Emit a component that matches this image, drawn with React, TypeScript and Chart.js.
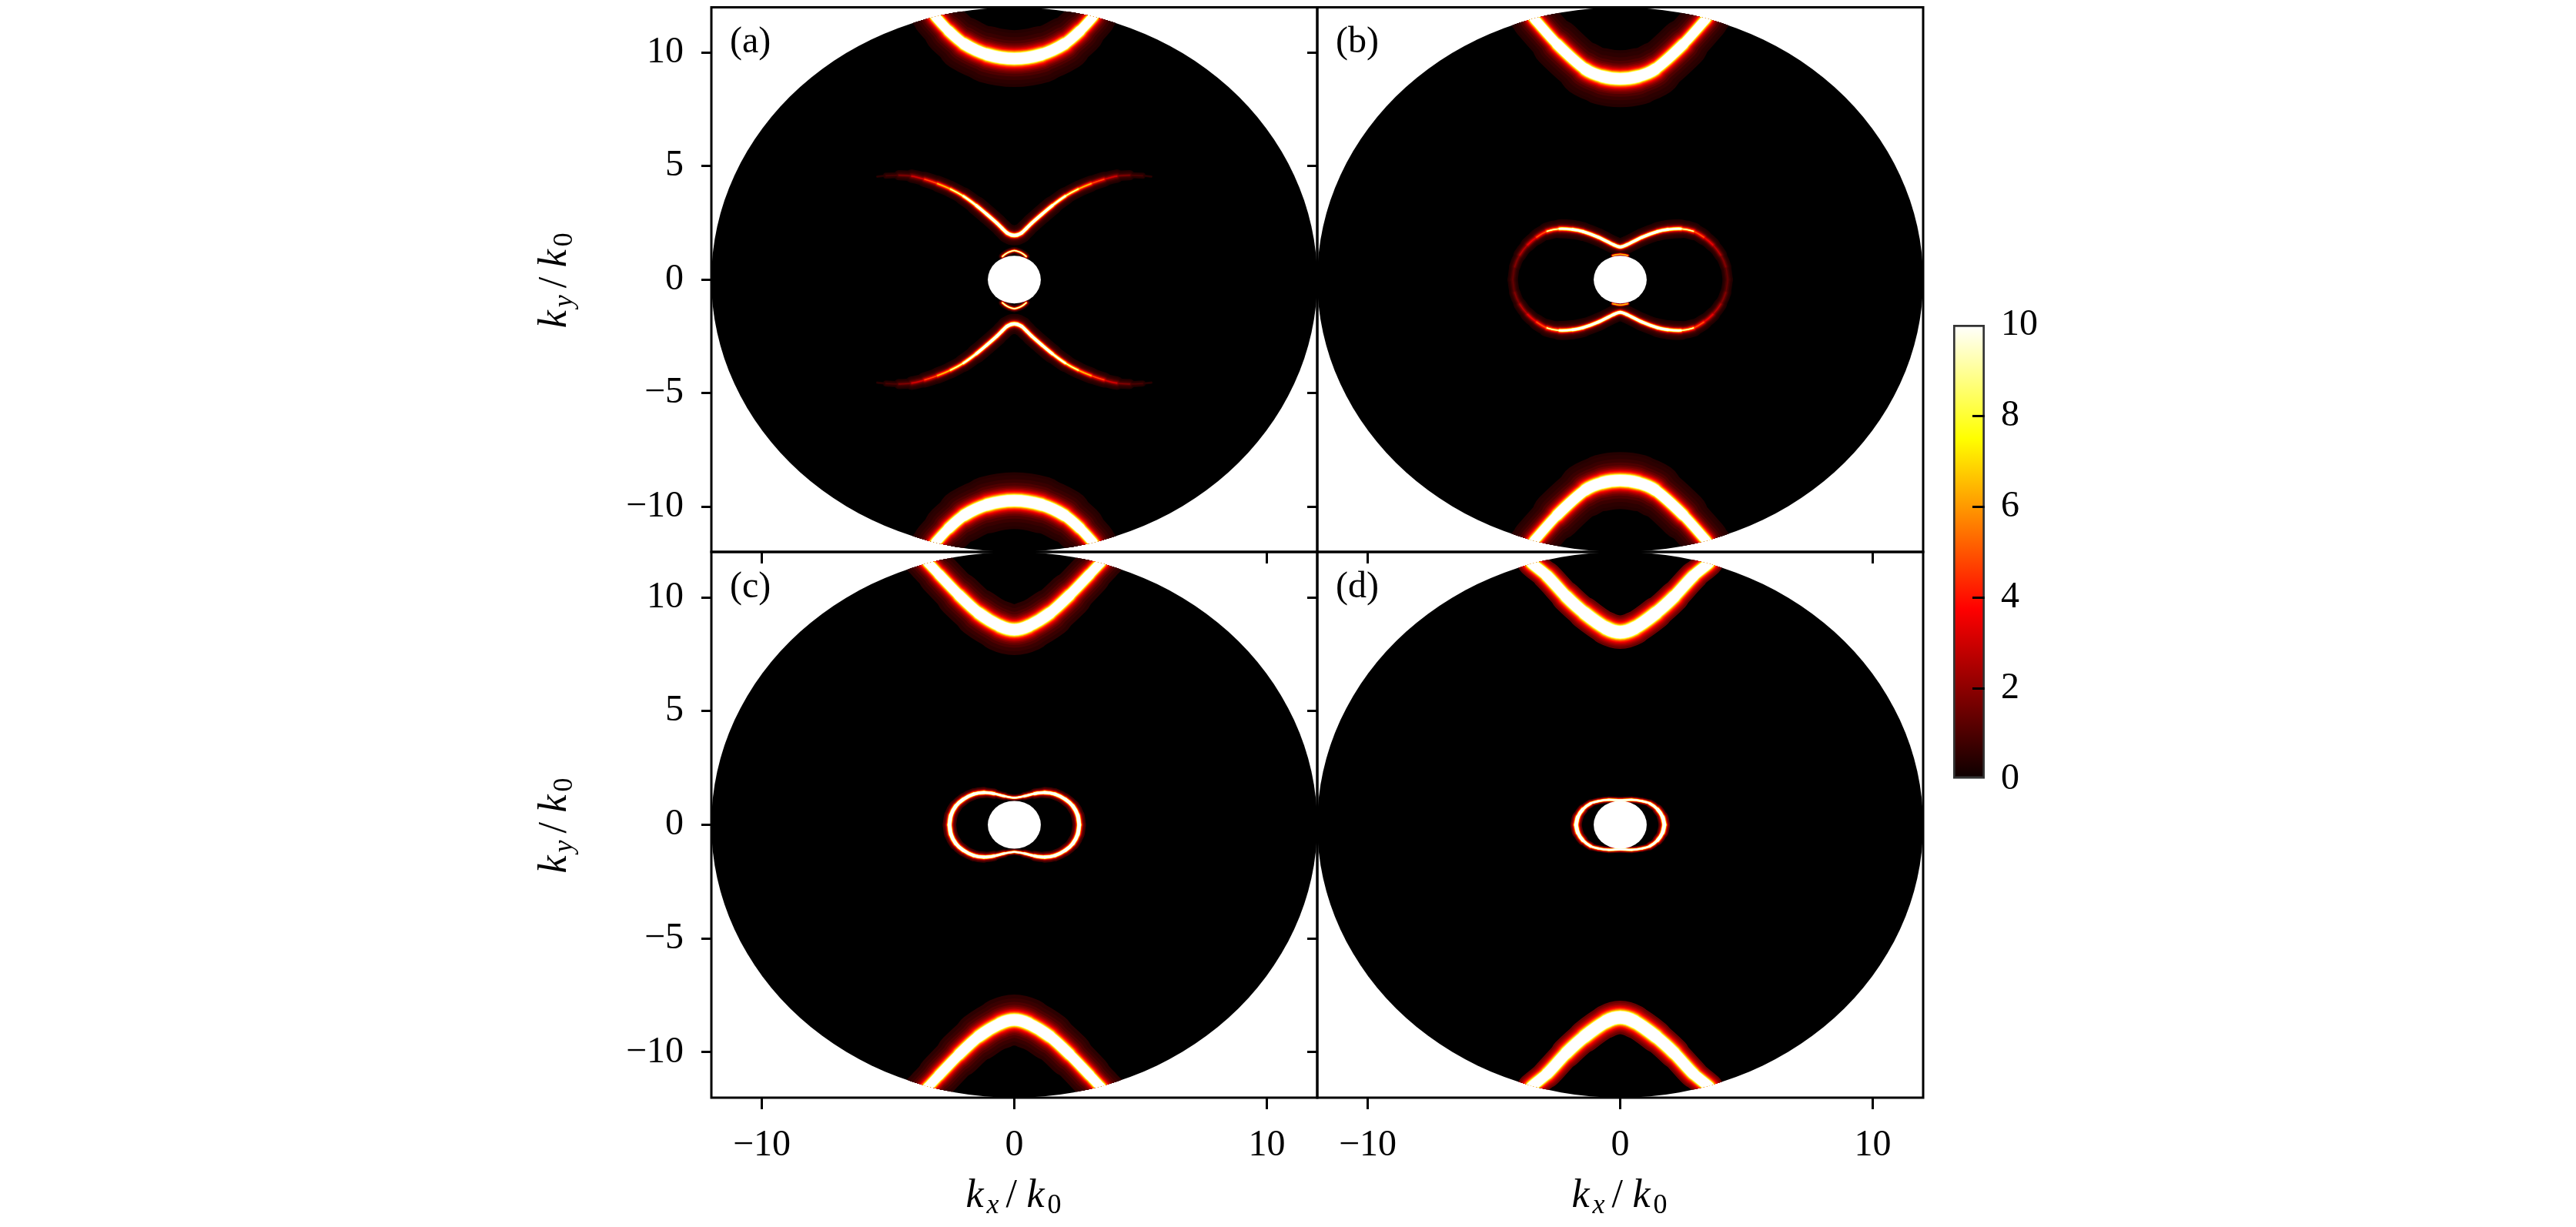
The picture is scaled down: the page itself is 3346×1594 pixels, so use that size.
import React, { useEffect, useRef } from "react";
import { Chart, registerables } from "chart.js";

Chart.register(...registerables);

const PAGE_W = 3346;
const PAGE_H = 1594;
const FONT = '"Liberation Serif", serif';
const TICK_SIZE = 48;

// axis ticks
const xTickValues = [-10, 0, 10];
const yTickValues = [-10, -5, 0, 5, 10];
const barTickValues = [0, 2, 4, 6, 8, 10];
const panelNames = ["(a)", "(b)", "(c)", "(d)"];
const axisRange = 12;
const discRadius = 12;
const holeRadius = 1.05;

// contour levels of the intensity map
const levels = [0.3, 0.4, 0.5, 0.7, 1, 1.4, 1.8, 2.2, 2.6, 3, 3.5, 4, 4.5, 5, 6, 7, 8, 9, 10];

// right half of each upper ridge: kx, ky, peak intensity, Lorentzian width (k0)
const arcAX = [0, 1.07, 1.99, 2.6, 3.11, 3.47, 3.7];
const arcAY = [9.74, 9.92, 10.39, 10.96, 11.57, 12.03, 12.3];
const arcAPeak = [200, 200, 200, 200, 200, 200, 200];
const arcAWidth = [0.051, 0.05, 0.046, 0.042, 0.039, 0.038, 0.038];

const arcBX = [0, 0.7, 1.38, 2.5, 3.39, 3.9];
const arcBY = [8.85, 8.95, 9.27, 10.38, 11.48, 12.1];
const arcBPeak = [200, 200, 200, 200, 200, 200];
const arcBWidth = [0.051, 0.05, 0.047, 0.042, 0.039, 0.038];

const arcCX = [0, 0.56, 1.41, 2.19, 2.98, 3.41, 3.82, 3.98];
const arcCY = [8.58, 8.74, 9.31, 10.1, 11.01, 11.52, 11.97, 12.2];
const arcCPeak = [200, 200, 200, 200, 200, 200, 200, 200];
const arcCWidth = [0.051, 0.05, 0.047, 0.044, 0.041, 0.04, 0.04, 0.04];

const arcDX = [0, 0.56, 1.41, 2.14, 2.9, 3.52, 3.92, 4.08];
const arcDY = [8.47, 8.65, 9.31, 10.04, 10.95, 11.52, 12.03, 12.25];
const arcDPeak = [200, 200, 200, 200, 200, 200, 200, 200];
const arcDWidth = [0.056, 0.055, 0.052, 0.049, 0.046, 0.044, 0.043, 0.043];

const wingAX = [0, 0.12, 0.29, 0.49, 0.69, 1.1, 1.51, 2.02, 2.53, 3.04, 3.55, 4.06, 4.57, 5.08, 5.43];
const wingAY = [1.95, 1.97, 2.06, 2.27, 2.49, 2.89, 3.27, 3.68, 3.99, 4.23, 4.42, 4.56, 4.6, 4.58, 4.54];
const wingAPeak = [30, 30, 28, 26, 24, 22, 17, 11, 8, 5.5, 3.5, 2, 1.1, 0.65, 0.35];
const wingAWidth = [0.04, 0.04, 0.04, 0.04, 0.042, 0.045, 0.05, 0.055, 0.065, 0.075, 0.09, 0.1, 0.1, 0.07, 0.035];

const innerAX = [0, 0.2, 0.35, 0.47];
const innerAY = [1.28, 1.22, 1.13, 1.02];
const innerAPeak = [12, 12, 12, 12];
const innerAWidth = [0.03, 0.03, 0.03, 0.03];

const lobeBX = [0, 0.25, 0.87, 1.48, 1.89, 2.4, 2.9, 3.31, 3.67, 3.98, 4.18, 4.26];
const lobeBY = [1.44, 1.53, 1.87, 2.12, 2.21, 2.24, 2.13, 1.87, 1.53, 1.08, 0.57, 0];
const lobeBPeak = [28, 26, 24, 22, 18, 11, 6, 4, 3, 2.2, 1.6, 1.3];
const lobeBWidth = [0.037, 0.037, 0.04, 0.042, 0.05, 0.062, 0.075, 0.085, 0.09, 0.095, 0.1, 0.11];

const innerBX = [0, 0.15, 0.3];
const innerBY = [1.12, 1.1, 1.06];
const innerBPeak = [8, 8, 8];
const innerBWidth = [0.028, 0.028, 0.028];

const lobeCX = [0, 0.39, 0.8, 1.2, 1.61, 2.02, 2.32, 2.51, 2.57];
const lobeCY = [1.19, 1.26, 1.37, 1.42, 1.35, 1.12, 0.82, 0.42, 0];
const lobeCPeak = [30, 35, 50, 60, 60, 60, 70, 80, 80];
const lobeCWidth = [0.02, 0.02, 0.022, 0.024, 0.024, 0.025, 0.025, 0.025, 0.025];

const lobeDX = [0, 0.46, 0.87, 1.17, 1.48, 1.68, 1.75];
const lobeDY = [1.08, 1.1, 1.04, 0.94, 0.68, 0.34, 0];
const lobeDPeak = [30, 30, 25, 30, 50, 70, 80];
const lobeDWidth = [0.024, 0.024, 0.026, 0.026, 0.026, 0.026, 0.026];

// colour bar stops
const barStops = [0, 0.375, 0.75, 1];
const barColors = ["#0b0000", "#ff0000", "#ffff00", "#ffffff"];
const barData = [10];

type Ridge = { x: number[]; y: number[]; peak: number[]; width: number[]; floor: number };

const mirrorSigned = (a: number[]) => [...a.slice(1).reverse().map((v) => -v), ...a];
const mirrorEven = (a: number[]) => [...a.slice(1).reverse(), ...a];

function pair(x: number[], y: number[], p: number[], w: number[], floor: number): Ridge[] {
  const fx = mirrorSigned(x);
  const fy = mirrorEven(y);
  const fp = mirrorEven(p);
  const fw = mirrorEven(w);
  return [
    { x: fx, y: fy, peak: fp, width: fw, floor },
    { x: fx, y: fy.map((v) => -v), peak: fp, width: fw, floor },
  ];
}

const panelRidges: Ridge[][] = [
  [...pair(arcAX, arcAY, arcAPeak, arcAWidth, 0.37), ...pair(wingAX, wingAY, wingAPeak, wingAWidth, 0.3), ...pair(innerAX, innerAY, innerAPeak, innerAWidth, 0.5)],
  [...pair(arcBX, arcBY, arcBPeak, arcBWidth, 0.4), ...pair(lobeBX, lobeBY, lobeBPeak, lobeBWidth, 0.3), ...pair(innerBX, innerBY, innerBPeak, innerBWidth, 1)],
  [...pair(arcCX, arcCY, arcCPeak, arcCWidth, 0.5), ...pair(lobeCX, lobeCY, lobeCPeak, lobeCWidth, 0.7)],
  [...pair(arcDX, arcDY, arcDPeak, arcDWidth, 1.4), ...pair(lobeDX, lobeDY, lobeDPeak, lobeDWidth, 1)],
];

function hot(v: number) {
  const t = Math.min(1, Math.max(0, v / 10));
  const r = Math.min(1, 0.0416 + (t / 0.365) * 0.9584);
  const g = Math.min(1, Math.max(0, (t - 0.365) / 0.375));
  const b = Math.min(1, Math.max(0, (t - 0.74) / 0.26));
  return `rgb(${Math.round(r * 255)},${Math.round(g * 255)},${Math.round(b * 255)})`;
}

function halfWidth(r: Ridge, i: number, level: number, pxPerK: number) {
  const ratio = r.peak[i] / level - 1;
  return ratio <= 0 ? 0 : r.width[i] * pxPerK * Math.sqrt(ratio);
}

function ridgeDatasets(ridges: Ridge[]) {
  const out: any[] = [];
  [...levels].reverse().forEach((level) => {
    ridges.forEach((r) => {
      if (level < r.floor) return;
      const seg = (c: any) => {
        const sc = c.chart.scales.x;
        const pxPerK = sc.getPixelForValue(1) - sc.getPixelForValue(0);
        return (halfWidth(r, c.p0DataIndex, level, pxPerK) + halfWidth(r, c.p1DataIndex, level, pxPerK));
      };
      out.push({
        data: r.x.map((x, i) => ({ x, y: r.y[i] })),
        borderColor: hot(level),
        borderWidth: 1,
        borderCapStyle: "round",
        borderJoinStyle: "round",
        pointRadius: 0,
        tension: 0.3,
        segment: {
          borderWidth: seg,
          borderColor: (c: any) => (seg(c) > 0 ? hot(level) : "transparent"),
        },
      });
    });
  });
  return out;
}

function drawMath(ctx: CanvasRenderingContext2D, cx: number, base: number, rotate: boolean, sub: string) {
  const parts: [string, string, number, number][] = [
    ["k", `italic 52px ${FONT}`, 0, 27],
    [sub, `italic 36px ${FONT}`, 8, 25],
    ["/", `52px ${FONT}`, 0, 27],
    ["k", `italic 52px ${FONT}`, 0, 27],
    ["0", `36px ${FONT}`, 8, 20],
  ];
  const total = parts.reduce((s, p) => s + p[3], 0);
  ctx.save();
  if (rotate) {
    ctx.translate(base, cx);
    ctx.rotate(-Math.PI / 2);
  } else {
    ctx.translate(cx, base);
  }
  ctx.fillStyle = "#000";
  ctx.textAlign = "left";
  ctx.textBaseline = "alphabetic";
  let x = -total / 2;
  parts.forEach(([t, f, dy, adv]) => {
    ctx.font = f;
    ctx.fillText(t, x, dy);
    x += adv;
  });
  ctx.restore();
}

const discPlugin = {
  id: "disc",
  beforeDatasetsDraw(chart: any) {
    const { ctx, scales } = chart;
    const cx = scales.x.getPixelForValue(0);
    const cy = scales.y.getPixelForValue(0);
    const rx = scales.x.getPixelForValue(discRadius) - cx;
    const ry = cy - scales.y.getPixelForValue(discRadius);
    ctx.save();
    ctx.beginPath();
    ctx.ellipse(cx, cy, rx, ry, 0, 0, Math.PI * 2);
    ctx.fillStyle = "#000";
    ctx.fill();
    ctx.clip();
  },
  afterDatasetsDraw(chart: any, _a: any, opts: any) {
    const { ctx, scales, chartArea } = chart;
    ctx.restore();
    const cx = scales.x.getPixelForValue(0);
    const cy = scales.y.getPixelForValue(0);
    ctx.save();
    ctx.beginPath();
    ctx.ellipse(cx, cy, scales.x.getPixelForValue(holeRadius) - cx, cy - scales.y.getPixelForValue(holeRadius), 0, 0, Math.PI * 2);
    ctx.fillStyle = "#fff";
    ctx.fill();
    ctx.strokeStyle = "#000";
    ctx.lineWidth = 3;
    ctx.strokeRect(chartArea.left, chartArea.top, chartArea.width, chartArea.height);
    ctx.fillStyle = "#000";
    ctx.font = `${TICK_SIZE}px ${FONT}`;
    ctx.textAlign = "left";
    ctx.textBaseline = "alphabetic";
    ctx.fillText(opts.name, scales.x.getPixelForValue(-11.27), scales.y.getPixelForValue(10.0));
    if (opts.xTitle) drawMath(ctx, cx, PAGE_H - 26, false, "x");
    if (opts.yTitle) drawMath(ctx, cy, 735, true, "y");
    ctx.restore();
  },
};

const X_BAND = 160;
const Y_BAND = 230;
const panelBoxes = [
  { left: 924, right: 1711, top: 9.5, bottom: 717 },
  { left: 1711, right: 2498, top: 9.5, bottom: 717 },
  { left: 924, right: 1711, top: 717, bottom: 1426 },
  { left: 1711, right: 2498, top: 717, bottom: 1426 },
];

const minusLabel = (v: number) => (v < 0 ? `\u2212${Math.abs(v)}` : `${v}`);
const noPad = (s: any) => {
  s.paddingLeft = 0;
  s.paddingRight = 0;
  s.paddingTop = 0;
  s.paddingBottom = 0;
};

function makePanel(canvas: HTMLCanvasElement, idx: number) {
  const b = panelBoxes[idx];
  const showX = idx >= 2;
  const showY = idx % 2 === 0;
  return new Chart(canvas, {
    type: "line",
    data: { datasets: ridgeDatasets(panelRidges[idx]) },
    plugins: [discPlugin],
    options: {
      animation: false,
      responsive: false,
      devicePixelRatio: 1,
      parsing: false,
      layout: {
        padding: {
          left: b.left - Y_BAND,
          right: PAGE_W - b.right,
          top: b.top,
          bottom: PAGE_H - b.bottom - X_BAND,
        },
      },
      plugins: {
        legend: { display: false },
        tooltip: { enabled: false },
        disc: { name: panelNames[idx], xTitle: showX, yTitle: showY },
      } as any,
      scales: {
        x: {
          type: "linear",
          min: -axisRange,
          max: axisRange,
          afterFit: (s: any) => { s.height = X_BAND; noPad(s); },
          afterBuildTicks: (s: any) => { s.ticks = xTickValues.map((value) => ({ value })); },
          grid: { drawOnChartArea: false, tickLength: 15, tickWidth: 3, tickColor: "#000" },
          border: { display: false },
          ticks: {
            display: showX,
            maxRotation: 0,
            autoSkip: false,
            padding: 19,
            color: "#000",
            font: { family: FONT, size: TICK_SIZE },
            callback: minusLabel,
          },
        },
        y: {
          type: "linear",
          min: -axisRange,
          max: axisRange,
          afterFit: (s: any) => { s.width = Y_BAND; noPad(s); },
          afterBuildTicks: (s: any) => { s.ticks = yTickValues.map((value) => ({ value })); },
          grid: { drawOnChartArea: false, tickLength: 13, tickWidth: 3, tickColor: "#000" },
          border: { display: false },
          ticks: {
            display: showY,
            autoSkip: false,
            padding: 23,
            color: "#000",
            font: { family: FONT, size: TICK_SIZE },
            callback: minusLabel,
          },
        },
      },
    } as any,
  });
}

function makeColorBar(canvas: HTMLCanvasElement) {
  const band = 110;
  return new Chart(canvas, {
    type: "bar",
    data: {
      labels: [""],
      datasets: [
        {
          data: barData,
          barPercentage: 1,
          categoryPercentage: 1,
          borderWidth: 3,
          borderColor: "#333333",
          borderSkipped: false,
          backgroundColor: (c: any) => {
            const area = c.chart.chartArea;
            if (!area) return "#000";
            const g = c.chart.ctx.createLinearGradient(0, area.bottom, 0, area.top);
            barStops.forEach((s, i) => g.addColorStop(s, barColors[i]));
            return g;
          },
        },
      ],
    },
    options: {
      animation: false,
      responsive: false,
      devicePixelRatio: 1,
      layout: { padding: { left: 2537, right: PAGE_W - 2578 - band, top: 422, bottom: PAGE_H - 1012 } },
      plugins: { legend: { display: false }, tooltip: { enabled: false } },
      scales: {
        x: { display: false },
        y: {
          position: "right",
          min: 0,
          max: 10,
          afterFit: (s: any) => { s.width = band; noPad(s); },
          afterBuildTicks: (s: any) => { s.ticks = barTickValues.map((value) => ({ value })); },
          border: { display: false },
          grid: {
            z: 1,
            drawOnChartArea: false,
            tickLength: -16,
            tickWidth: 3,
            tickColor: (c: any) => (c.tick && (c.tick.value === 0 || c.tick.value === 10) ? "transparent" : "#000"),
          },
          ticks: {
            autoSkip: false,
            padding: 37,
            color: "#000",
            font: { family: FONT, size: TICK_SIZE },
          },
        },
      },
    } as any,
  });
}

export default function App() {
  const refs = useRef<(HTMLCanvasElement | null)[]>([]);
  useEffect(() => {
    const charts = [0, 1, 2, 3].map((i) => makePanel(refs.current[i]!, i));
    charts.push(makeColorBar(refs.current[4]!));
    return () => charts.forEach((c) => c.destroy());
  }, []);
  return (
    <div style={{ position: "absolute", left: 0, top: 0, width: PAGE_W, height: PAGE_H, overflow: "hidden", background: "#fff" }}>
      {[0, 1, 2, 3, 4].map((i) => (
        <canvas
          key={i}
          ref={(el) => { refs.current[i] = el; }}
          width={PAGE_W}
          height={PAGE_H}
          style={{ position: "absolute", left: 0, top: 0, width: PAGE_W, height: PAGE_H }}
        />
      ))}
    </div>
  );
}
